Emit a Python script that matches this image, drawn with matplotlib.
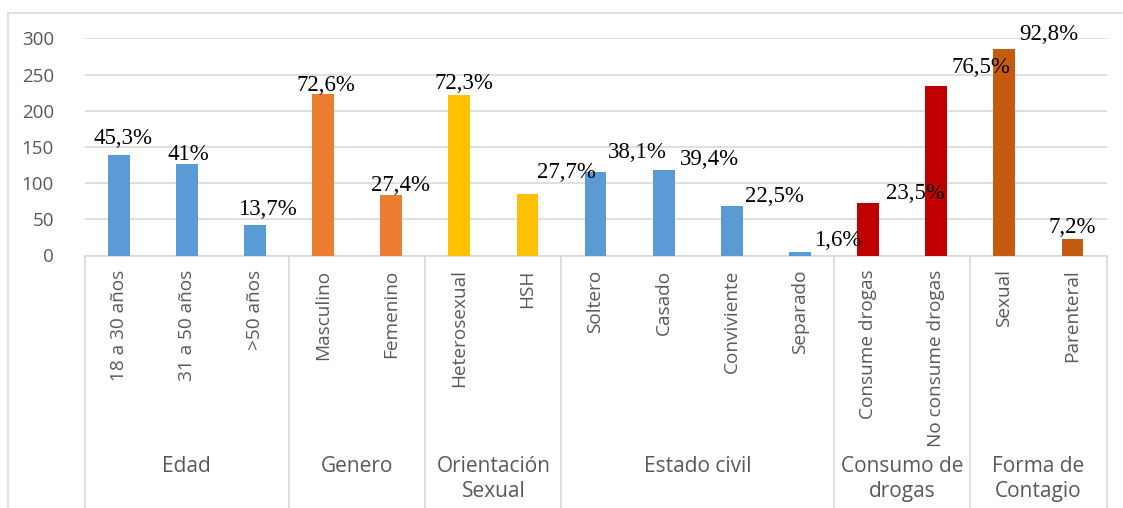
import numpy as np
import matplotlib.pyplot as plt
from matplotlib.patches import Rectangle

# Data
categories = ['18 a 30 años', '31 a 50 años', '>50 años', 'Masculino', 'Femenino',
              'Heterosexual', 'HSH', 'Soltero', 'Casado', 'Conviviente', 'Separado',
              'Consume drogas', 'No consume drogas', 'Sexual', 'Parenteral']
values = [139, 126, 42, 223, 84, 222, 85, 116, 118, 69, 5, 73, 234, 285, 23]
pct_labels = ['45,3%', '41%', '13,7%', '72,6%', '27,4%', '72,3%', '27,7%', '38,1%',
              '39,4%', '22,5%', '1,6%', '23,5%', '76,5%', '92,8%', '7,2%']
groups = ['Edad', 'Genero', 'Orientación\nSexual', 'Estado civil',
          'Consumo de\ndrogas', 'Forma de\nContagio']
group_sizes = [3, 2, 2, 4, 2, 2]

# Styling
group_colors = ['#5B9BD5', '#ED7D31', '#FFC000', '#5B9BD5', '#C00000', '#C55A11']
# label offsets (category units, data units) as they sit in the original
label_dx = [0.06, 0.02, 0.18, 0.04, 0.13, 0.07, 0.57, 0.62, 0.67, 0.62, 0.56, 0.69, 0.65, 0.65, 0.0]
label_dy = [23, 13, 21, 12, 13, 16, 29, 26, 14, 12, 16, 13, 25, 20, 15]

grey = '#595959'
grid_c = '#D9D9D9'

fig = plt.figure(figsize=(11.23, 5.08), dpi=100)
ax = fig.add_axes([84.6 / 1123, 1 - 255.5 / 508, (1106.5 - 84.6) / 1123, 217.2 / 508])

colors = []
for c, n in zip(group_colors, group_sizes):
    colors += [c] * n

x = np.arange(len(categories))
ax.bar(x, values, width=0.32, color=colors, zorder=3)

ax.set_xlim(-0.5, len(categories) - 0.5)
ax.set_ylim(0, 300)
ax.set_yticks(np.arange(0, 301, 50))
ax.yaxis.grid(True, color=grid_c, lw=1.2, zorder=0)
ax.tick_params(axis='y', length=0, pad=22, labelsize=13.5, labelcolor=grey)
for lbl in ax.get_yticklabels():
    lbl.set_fontfamily('Open Sans')

for s in ['top', 'right', 'left']:
    ax.spines[s].set_visible(False)
ax.spines['bottom'].set_color(grid_c)
ax.spines['bottom'].set_linewidth(1.2)

ax.set_xticks(x)
ax.set_xticklabels(categories, rotation=90, va='top', fontsize=13.7,
                   color=grey, family='Open Sans')
ax.tick_params(axis='x', length=0, pad=10)

# value labels
for i, (v, t) in enumerate(zip(values, pct_labels)):
    ax.text(i + label_dx[i], v + label_dy[i], t, ha='center', va='center',
            fontsize=16.5, family='Liberation Serif', color='black',
            clip_on=False, zorder=4)

# group separators and group labels
trans = ax.get_xaxis_transform()
edges = np.concatenate([[0], np.cumsum(group_sizes)]) - 0.5
for e in edges:
    ax.plot([e, e], [0, -1.3], transform=trans, color=grid_c, lw=1.2, clip_on=False)
for g, a, b in zip(groups, edges[:-1], edges[1:]):
    ax.text((a + b) / 2, -0.925, g, transform=trans, ha='center', va='top',
            fontsize=15, color=grey, family='Open Sans', linespacing=1.2)

# outer chart frame
fig.patches.append(Rectangle((8 / 1123, -0.1), 1.2, 1 - 12.7 / 508 + 0.1,
                             transform=fig.transFigure, fill=False,
                             edgecolor=grid_c, lw=1.2))

fig.savefig('out.png', dpi=100)
